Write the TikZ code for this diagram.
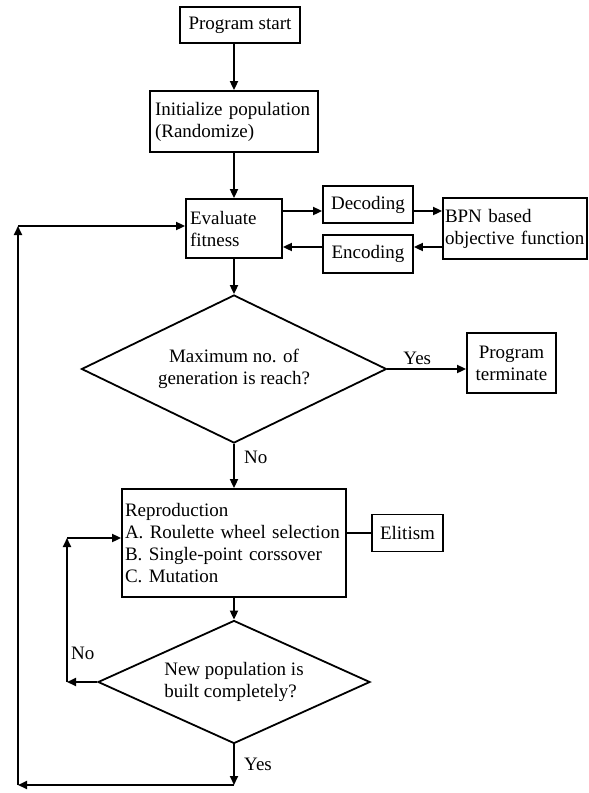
\documentclass[tikz,border=0pt]{standalone}
\usepackage{fontspec}
\setmainfont{Liberation Serif}
\usetikzlibrary{arrows.meta,positioning,shapes.geometric}

\begin{document}
\begin{tikzpicture}[x=1pt,y=-1pt,
  box/.style={draw,line width=1.8pt,inner sep=4pt,font=\fontsize{19}{22}\selectfont,align=center},
  lbox/.style={box,align=left,inner xsep=5pt},
  dia/.style={draw,diamond,line width=1.8pt,inner sep=0pt,aspect=2,font=\fontsize{19}{22}\selectfont},
  arr/.style={-{Triangle[length=9pt,width=8pt]},line width=1.8pt},
  lbl/.style={font=\fontsize{19}{22}\selectfont}
]
\useasboundingbox (0,0) rectangle (589,793);
\node[box,minimum width=120pt,minimum height=36pt] (start) at (240,25) {Program start};
\node[lbox,text width=158pt,minimum height=61pt] (init) at (234,121.5) {Initialize population\\(Randomize)};
\node[lbox,text width=88pt,inner xsep=4pt,minimum height=59pt] (eval) at (234,228.5) {Evaluate\\fitness};
\node[box,minimum width=90pt,minimum height=37pt] (dec) at (368,204.5) {Decoding};
\node[box,minimum width=90pt,minimum height=38pt] (enc) at (368,254) {Encoding};
\node[lbox,text width=140pt,inner xsep=2pt,minimum height=61pt] (bpn) at (515,228.5) {BPN based\\objective function};
\node[dia,align=center,minimum width=305pt,minimum height=148pt] (maxgen) at (234,369) {Maximum no. of\\generation is reach?};
\node[box,inner xsep=2pt,minimum width=89pt,minimum height=60pt] (term) at (511.5,363) {Program\\terminate};
\node[lbox,text width=218pt,inner xsep=3pt,minimum height=108pt] (rep) at (234,543) {Reproduction\\A. Roulette wheel selection\\B. Single-point corssover\\C. Mutation};
\node[box,minimum width=71pt,minimum height=37pt] (elit) at (407.5,533) {Elitism};
\node[dia,align=left,minimum width=272pt,minimum height=123pt] (newpop) at (234,682) {New population is\\built completely?};

\coordinate (upper) at (0,211);
\coordinate (lower) at (0,247);
\coordinate (sw) at (18,785);
\coordinate (nw) at (18,226);
\coordinate (nb) at (67,682);
\coordinate (nt) at (67,538);

\draw[arr] (start.south -| init) -- (init);
\draw[arr] (init) -- (eval);
\draw[arr] (eval) -- (maxgen);
\draw[arr] (maxgen) -- node[right,lbl,pos=0.3,xshift=6pt] {No} (rep);
\draw[arr] (rep) -- (newpop);
\draw[arr] (maxgen.east) -- node[above,lbl,pos=0.38] {Yes} (maxgen.east -| term.west);

\draw[arr] (eval.east |- upper) -- (dec.west |- upper);
\draw[arr] (dec.east |- upper) -- (bpn.west |- upper);
\draw[arr] (bpn.west |- lower) -- (enc.east |- lower);
\draw[arr] (enc.west |- lower) -- (eval.east |- lower);

\draw[line width=1.8pt] (rep.east |- elit) -- (elit);

\draw[arr] (newpop) -- node[right,lbl,xshift=6pt] {Yes} (newpop |- sw);
\draw[arr] (newpop |- sw) -- (sw);
\draw[arr] (sw) -- (nw);
\draw[arr] (nw) -- (eval.west |- nw);

\draw[arr] (newpop) -- (nb);
\draw[arr] (nb) -- node[right,lbl,pos=0.2] {No} (nt);
\draw[arr] (nt) -- (rep.west |- nt);
\end{tikzpicture}
\end{document}
